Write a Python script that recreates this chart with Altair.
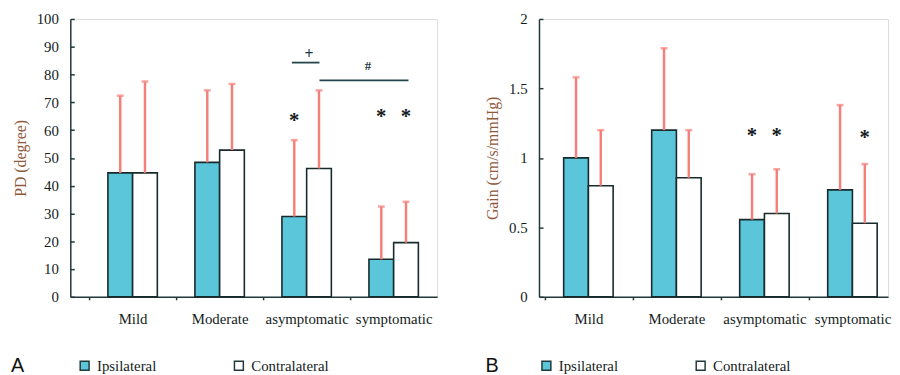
import altair as alt
import pandas as pd

categories = ["Mild", "Moderate", "asymptomatic", "symptomatic"]
sides = ["Ipsilateral", "Contralateral"]

# Panel A: PD (degree)
pd_ipsi_mean = [44.6, 48.4, 28.9, 13.5]
pd_ipsi_upper = [72.4, 74.3, 56.4, 32.5]
pd_contra_mean = [44.6, 52.8, 46.2, 19.5]
pd_contra_upper = [77.5, 76.6, 74.3, 34.2]

# Panel B: Gain (cm/s/mmHg)
gain_ipsi_mean = [1.00, 1.20, 0.556, 0.77]
gain_ipsi_upper = [1.58, 1.79, 0.883, 1.38]
gain_contra_mean = [0.80, 0.857, 0.60, 0.53]
gain_contra_upper = [1.20, 1.20, 0.918, 0.956]

# significance asterisks
pd_star_cat = ["asymptomatic", "symptomatic", "symptomatic"]
pd_star_side = ["Ipsilateral", "Ipsilateral", "Contralateral"]
pd_star_y = [64.3, 65.7, 65.7]
gain_star_cat = ["asymptomatic", "asymptomatic", "symptomatic"]
gain_star_side = ["Ipsilateral", "Contralateral", "Contralateral"]
gain_star_y = [1.18, 1.18, 1.165]

# brackets on panel A
bracket_from = ["asymptomatic", "asymptomatic"]
bracket_to = ["asymptomatic", "symptomatic"]
bracket_y = [84.3, 77.9]
bracket_label = ["+", "#"]
bracket_label_cat = ["asymptomatic", "symptomatic"]
bracket_label_y = [87.5, 83.0]

SERIF = "Liberation Serif"
TXT = "#141c22"
AX = "#22393b"
TEAL = "#5BC6DA"
RED = "#F4807B"
TITLE_C = "#8f5a3c"


def make_df(mi, ui, mc, uc):
    rows = []
    for k, c in enumerate(categories):
        rows.append({"cat": c, "side": sides[0], "mean": mi[k], "upper": ui[k]})
        rows.append({"cat": c, "side": sides[1], "mean": mc[k], "upper": uc[k]})
    return pd.DataFrame(rows)


def xenc(field, xscale, bp=0.5):
    return alt.X(
        field, sort=categories, scale=xscale, bandPosition=bp,
        axis=alt.Axis(title=None, labelAngle=0, tickOffset=-44, labelOffset=44,
                      tickSize=3, tickColor=AX, tickWidth=1.5, labelPadding=12,
                      domainColor=AX, domainWidth=1.5, grid=False))


def yenc(field, ymax, values, title, fmt):
    return alt.Y(
        field, scale=alt.Scale(domain=[0, ymax], nice=False, zero=True),
        axis=alt.Axis(values=values, format=fmt, title=title, ticks=False,
                      labelPadding=12, titlePadding=8,
                      domainColor=AX, domainWidth=1.5, grid=False))


xoff = alt.XOffset("side:N", sort=sides, scale=alt.Scale(domain=sides, paddingInner=0, paddingOuter=0))


def panel(df, ymax, yvalues, ytitle, fmt, letter, xscale, legend_x, title_pad, stars):
    color = alt.Color(
        "side:N", sort=sides, scale=alt.Scale(domain=sides, range=[TEAL, "#ffffff"]),
        legend=alt.Legend(title=letter, titleOrient="left", orient="none",
                          legendX=legend_x, legendY=343, direction="horizontal",
                          symbolType="square", symbolSize=81, symbolStrokeColor=AX,
                          symbolStrokeWidth=1.5, labelOffset=5, columnPadding=76,
                          titlePadding=title_pad))
    base = alt.Chart(df)
    Y = lambda f: yenc(f, ymax, yvalues, ytitle, fmt)
    bars = base.mark_bar(stroke="#172a2c", strokeWidth=1.6).encode(
        x=xenc("cat:N", xscale), xOffset=xoff, y=Y("mean:Q"), color=color)
    err = base.mark_rule(color=RED, strokeWidth=2.5).encode(
        x=xenc("cat:N", xscale), xOffset=xoff, y=Y("mean:Q"), y2="upper:Q")
    caps = base.mark_tick(color=RED, thickness=2.5, size=7).encode(
        x=xenc("cat:N", xscale), xOffset=xoff, y=Y("upper:Q"))
    sdf = pd.DataFrame({"cat": stars[0], "side": stars[1], "y": stars[2]})
    st = alt.Chart(sdf).mark_text(text="*", font=SERIF, fontSize=21, fontWeight="bold",
                                  color=TXT, baseline="middle", dy=3).encode(
        x=xenc("cat:N", xscale), xOffset=xoff, y=Y("y:Q"))
    return [bars, err, caps, st]


def inward_ticks(df, ymax, yvalues, width):
    # invisible layer whose only purpose is a tick-only axis pointing into the plot
    return alt.Chart(df).mark_rule(opacity=0).encode(
        y=alt.Y("mean:Q", scale=alt.Scale(domain=[0, ymax], nice=False, zero=True),
                axis=alt.Axis(orient="right", offset=-width, values=yvalues, labels=False,
                              domain=False, title=None, ticks=True, tickSize=4,
                              tickColor=AX, tickWidth=1.5, grid=False)))


xscaleA = alt.Scale(paddingInner=0.432, paddingOuter=0.324, align=0.667)
xscaleB = alt.Scale(paddingInner=0.438, paddingOuter=0.202, align=0.694)

dfA = make_df(pd_ipsi_mean, pd_ipsi_upper, pd_contra_mean, pd_contra_upper)
dfB = make_df(gain_ipsi_mean, gain_ipsi_upper, gain_contra_mean, gain_contra_upper)

valsA = list(range(0, 101, 10))
valsB = [0, 0.5, 1, 1.5, 2]
layersA = panel(dfA, 100, valsA, "PD (degree)", "d", "A", xscaleA, -60, 53,
                (pd_star_cat, pd_star_side, pd_star_y))
layersB = panel(dfB, 2, valsB, "Gain (cm/s/mmHg)", "~g", "B", xscaleB, -54, 40,
                (gain_star_cat, gain_star_side, gain_star_y))

# brackets (panel A)
br = pd.DataFrame({"f": bracket_from, "t": bracket_to, "y": bracket_y,
                   "lab": bracket_label, "lc": bracket_label_cat, "ly": bracket_label_y})
yA = lambda f: yenc(f, 100, valsA, "PD (degree)", "d")
plus_rule = alt.Chart(br.iloc[[0]]).mark_rule(color="#24454b", strokeWidth=1.8).encode(
    x=xenc("f:N", xscaleA, 0.2), x2=alt.X2("t:N", bandPosition=0.76), y=yA("y:Q"))
hash_rule = alt.Chart(br.iloc[[1]]).mark_rule(color="#24454b", strokeWidth=1.8).encode(
    x=xenc("f:N", xscaleA, 0.76), x2=alt.X2("t:N", bandPosition=0.8), y=yA("y:Q"))
plus_txt = alt.Chart(br.iloc[[0]]).mark_text(font=SERIF, fontSize=16, fontWeight="bold",
                                              color="#1d3a44", baseline="middle").encode(
    x=xenc("lc:N", xscaleA, 0.55), y=yA("ly:Q"), text="lab:N")
hash_txt = alt.Chart(br.iloc[[1]]).mark_text(font=SERIF, fontSize=13, fontWeight="bold",
                                              color="#1d3a44", baseline="middle", dx=-1).encode(
    x=xenc("lc:N", xscaleA, 0.0), y=yA("ly:Q"), text="lab:N")

innerA = alt.layer(*layersA, plus_rule, hash_rule, plus_txt, hash_txt)
innerB = alt.layer(*layersB)
panelA = alt.layer(innerA, inward_ticks(dfA, 100, valsA, 371)).resolve_axis(
    y="independent").properties(width=371, height=281)
panelB = alt.layer(innerB, inward_ticks(dfB, 2, valsB, 353)).resolve_axis(
    y="independent").properties(width=353, height=281)

chart = alt.hconcat(panelA, panelB, spacing=103, bounds="flush").resolve_scale(
    x="independent", y="independent", color="independent", xOffset="independent"
).resolve_legend(color="independent").properties(
    padding={"left": 2, "top": 1, "right": 0, "bottom": 0}
).configure_view(stroke=None).configure(
    background="white", font=SERIF
).configure_axis(
    labelFont=SERIF, labelFontSize=15, labelColor=TXT,
    titleFont=SERIF, titleFontSize=16, titleFontWeight="normal", titleColor=TITLE_C
).configure_legend(
    labelFont=SERIF, labelFontSize=15, labelColor=TXT,
    titleFont="Liberation Sans", titleFontSize=20, titleFontWeight="normal",
    titleColor="#111111"
)

chart.save("out.html", embed_options={"renderer": "svg", "actions": False})
